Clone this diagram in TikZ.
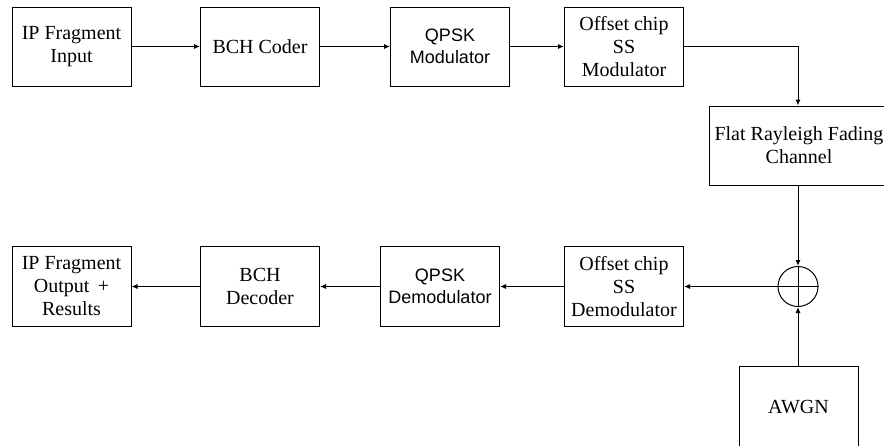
\documentclass[tikz,border=0pt]{standalone}
\usepackage{fontspec}
\setmainfont{Liberation Serif}
\newfontfamily\arialfont{Liberation Sans}
\usetikzlibrary{arrows.meta}

\tikzset{
  block/.style={draw, line width=1pt, rectangle, minimum width=119pt, minimum height=79pt,
    align=center, inner sep=0pt, font=\fontsize{20}{23}\selectfont},
  sansblock/.style={block, font=\arialfont\fontsize{18}{22}\selectfont},
  flow/.style={line width=1pt, -{Latex[length=6pt,width=5pt]}},
  sumnode/.style={draw, line width=1pt, circle, minimum size=40pt, inner sep=0pt},
}

\begin{document}
\begin{tikzpicture}[x=1pt, y=-1pt]
  \useasboundingbox (0,0) rectangle (884,445);
  \clip (0,0) rectangle (884,445);

  % transmitter chain
  \node[block]     (src)  at (71.5,46.5)  {IP Fragment\\Input};
  \node[block]     (enc)  at (260,46.5)   {BCH Coder};
  \node[sansblock] (mod)  at (450,46.5)   {QPSK\\Modulator};
  \node[block]     (ssm)  at (624,46.5)   {Offset chip\\SS\\Modulator};

  % channel
  \node[block, minimum width=180pt] (chan) at (799,145.5) {Flat Rayleigh Fading\\Channel};
  \node[sumnode]   (sum)  at (798,286.5) {};
  \draw[line width=1pt] (sum.north) -- (sum.south) (sum.west) -- (sum.east);
  \node[block, minimum height=82pt] (noise) at (798.5,407) {AWGN};

  % receiver chain
  \node[block, minimum height=80pt] (ssd)  at (624,286.5)  {Offset chip\\SS\\Demodulator};
  \node[sansblock, minimum height=80pt] (dem) at (440,286.5) {QPSK\\Demodulator};
  \node[block, minimum height=80pt] (dec)  at (260,286.5)  {BCH\\Decoder};
  \node[block, minimum height=80pt] (sink) at (71.5,286.5) {IP Fragment\\Output \,+\\Results};

  % connectors
  \draw[flow] (src) -- (enc);
  \draw[flow] (enc) -- (mod);
  \draw[flow] (mod) -- (ssm);
  \draw[flow] (ssm.east) -| (chan.north -| sum);
  \draw[flow] (chan.south -| sum) -- (sum.north);
  \draw[flow] (noise.north -| sum) -- (sum.south);
  \draw[flow] (sum.west) -- (ssd.east);
  \draw[flow] (ssd) -- (dem);
  \draw[flow] (dem) -- (dec);
  \draw[flow] (dec) -- (sink);
\end{tikzpicture}
\end{document}
